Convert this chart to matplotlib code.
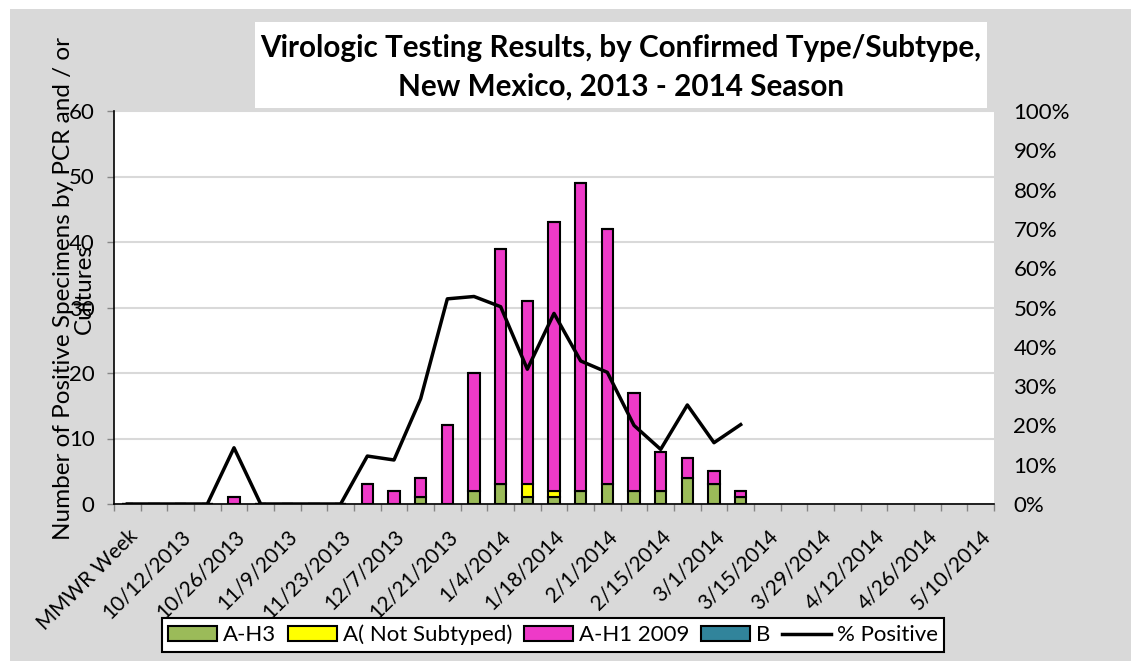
import numpy as np
import matplotlib
matplotlib.use("Agg")
import matplotlib.pyplot as plt
from matplotlib.patches import Patch, Rectangle
from matplotlib.lines import Line2D
from matplotlib.ticker import PercentFormatter

plt.rcParams['font.family'] = ['Lato', 'DejaVu Sans']

# week categories (first one is the header cell of the sheet)
weeks = ['MMWR Week', '10/5/2013', '10/12/2013', '10/19/2013', '10/26/2013',
         '11/2/2013', '11/9/2013', '11/16/2013', '11/23/2013', '11/30/2013',
         '12/7/2013', '12/14/2013', '12/21/2013', '12/28/2013', '1/4/2014',
         '1/11/2014', '1/18/2014', '1/25/2014', '2/1/2014', '2/8/2014',
         '2/15/2014', '2/22/2014', '3/1/2014', '3/8/2014', '3/15/2014',
         '3/22/2014', '3/29/2014', '4/5/2014', '4/12/2014', '4/19/2014',
         '4/26/2014', '5/3/2014', '5/10/2014']

# weeks after 3/8/2014 have no data yet (None)
a_h3 = [0, 0, 0, 0, 0, 0, 0, 0, 0, 0, 0, 1, 0, 2, 3, 1, 1, 2, 3, 2, 2, 4,
        3, 1] + [None] * 9
a_not_subtyped = [0, 0, 0, 0, 0, 0, 0, 0, 0, 0, 0, 0, 0, 0, 0, 2, 1, 0, 0,
                  0, 0, 0, 0, 0] + [None] * 9
a_h1_2009 = [0, 0, 0, 0, 1, 0, 0, 0, 0, 3, 2, 3, 12, 18, 36, 28, 41, 47, 39,
             15, 6, 3, 2, 1] + [None] * 9
b = [0] * 24 + [None] * 9
pct_positive = [0, 0, 0, 0, 14.3, 0, 0, 0, 0, 12.2, 11.2, 26.8, 52.2, 52.8,
                50.2, 34.3, 48.5, 36.4, 33.5, 20.0, 13.9, 25.2, 15.6, 20.2] + [None] * 9

green = '#9BBB59'
yellow = '#FFFF00'
pink = '#EE3AC8'
teal = '#31849B'
gray_bg = '#D9D9D9'

W, H = 1131, 661
fig = plt.figure(figsize=(W / 100, H / 100), dpi=100, facecolor='white')
fig.patches.append(Rectangle((10 / W, 0), 1, 1 - 9 / H, transform=fig.transFigure,
                             facecolor=gray_bg, edgecolor='none', zorder=-2))
fig.patches.append(Rectangle((255 / W, 1 - 108 / H), (987 - 255) / W, (108 - 22) / H,
                             transform=fig.transFigure, facecolor='white',
                             edgecolor='none', zorder=-1))

ax = fig.add_axes([114 / W, 1 - 504 / H, (994 - 114) / W, (504 - 111) / H])
ax.set_facecolor('white')

x = np.arange(len(weeks))
bw = 0.42
has = np.array([v is not None for v in a_h3])
bottom = np.zeros(has.sum())
for vals, col in [(a_h3, green), (a_not_subtyped, yellow), (a_h1_2009, pink), (b, teal)]:
    vals = np.array([v for v in vals if v is not None], dtype=float)
    ax.bar(x[has], vals, bw, bottom=bottom, color=col, edgecolor='black',
           linewidth=1.5, zorder=3)
    bottom += vals

ax.set_xlim(-0.5, len(weeks) - 0.5)
ax.set_ylim(0, 60)
ax.set_yticks(range(0, 61, 10))
ax.grid(axis='y', color=gray_bg, linewidth=1.5, zorder=0)
ax.set_axisbelow(True)
for s in ['top', 'right']:
    ax.spines[s].set_visible(False)
ax.spines['left'].set_linewidth(1.2)
ax.spines['bottom'].set_linewidth(1.2)

ax.set_xticks(x[::2])
ax.set_xticklabels(weeks[::2], rotation=45, ha='right', va='top',
                   rotation_mode='anchor', fontsize=15)
ax.set_xticks(np.arange(-0.5, len(weeks), 1), minor=True)
ax.tick_params(axis='x', which='major', length=0, pad=16)
ax.tick_params(axis='x', which='minor', length=5, color='#868686', width=1)
ax.tick_params(axis='y', length=5, color='#868686', width=1, pad=9, labelsize=16)

ax2 = ax.twinx()
pct = np.array([np.nan if v is None else v / 100 for v in pct_positive])
ax2.plot(x, pct, color='black', linewidth=2.5, zorder=4)
ax2.set_ylim(0, 1)
ax2.set_yticks(np.arange(0, 1.01, 0.1))
ax2.yaxis.set_major_formatter(PercentFormatter(1.0, decimals=0))
ax2.tick_params(axis='y', length=0, pad=14, labelsize=16)
for s in ax2.spines.values():
    s.set_visible(False)

fig.text(621 / W, 1 - 48 / H, 'Virologic Testing Results, by Confirmed Type/Subtype,',
         ha='center', va='center', fontsize=21.3, fontweight='bold')
fig.text(621 / W, 1 - 87 / H, 'New Mexico, 2013 - 2014 Season',
         ha='center', va='center', fontsize=21.3, fontweight='bold')

fig.text(74 / W, 1 - 289 / H, 'Number of Positive Specimens by PCR and / or\nCultures',
         rotation=90, ha='center', va='center', multialignment='center',
         fontsize=17.5, linespacing=1.0)

handles = [Patch(facecolor=green, edgecolor='black', linewidth=1.5),
           Patch(facecolor=yellow, edgecolor='black', linewidth=1.5),
           Patch(facecolor=pink, edgecolor='black', linewidth=1.5),
           Patch(facecolor=teal, edgecolor='black', linewidth=1.5),
           Line2D([0], [0], color='black', linewidth=2.5)]
labels = ['A-H3', 'A( Not Subtyped)', 'A-H1 2009', 'B', '% Positive']
leg = fig.legend(handles, labels, ncol=5, loc='center',
                 bbox_to_anchor=(553 / W, 1 - 635 / H), frameon=True, fancybox=False,
                 edgecolor='black', facecolor='white', framealpha=1, fontsize=16,
                 handlelength=2.2, handleheight=0.6, handletextpad=0.25,
                 columnspacing=0.55, borderpad=0.3, borderaxespad=0)
leg.get_frame().set_linewidth(1.5)

fig.savefig('out.png', dpi=100, facecolor=fig.get_facecolor())
